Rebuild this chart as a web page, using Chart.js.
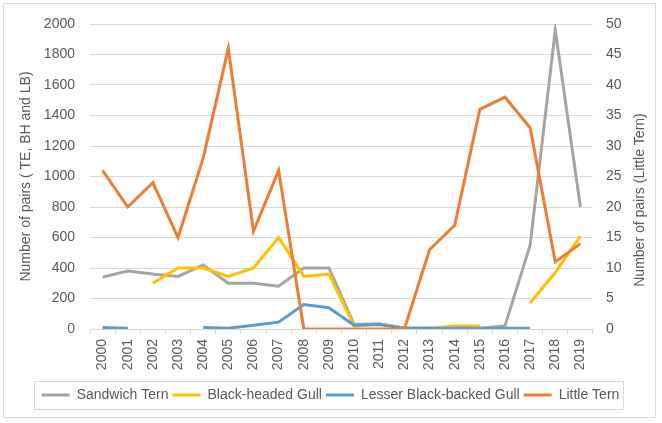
<!DOCTYPE html>
<html>
<head>
<meta charset="utf-8">
<script src="https://cdn.jsdelivr.net/npm/chart.js@4"></script>
<style>
  body { margin: 0; background: #fff; }
  #wrap { width: 662px; height: 423px; }
</style>
</head>
<body>
<div id="wrap"><canvas id="chart"></canvas></div>
<script>
'use strict';

const years = ['2000','2001','2002','2003','2004','2005','2006','2007','2008','2009',
               '2010','2011','2012','2013','2014','2015','2016','2017','2018','2019'];
// left axis (pairs)
const sandwichTern = [340,380,360,345,420,300,300,280,400,400,30,35,5,5,5,5,20,550,1960,800];
const blackHeadedGull = [null,null,300,400,400,345,400,600,345,360,20,35,5,5,20,20,null,170,370,610];
const lesserBlackBacked = [10,5,null,null,10,5,25,45,160,140,25,30,5,5,5,5,5,5,null,null];
// right axis (pairs of Little Tern)
const littleTern = [26,20,24,15,28,46,16,26,0,0,0,0,0,13,17,36,38,33,11,14];

const leftTicks = { min: 0, max: 2000, step: 200 };
const rightTicks = { min: 0, max: 50, step: 5 };

const textColor = '#595959';
const gridColor = '#d9d9d9';

Chart.defaults.font.family = "'Liberation Sans', Arial, sans-serif";
Chart.defaults.font.size = 14;
Chart.defaults.color = textColor;

// frame round the whole chart, box round the legend, right axis title
const decor = {
  id: 'decor',
  beforeDraw(chart) {
    const ctx = chart.ctx;
    ctx.save();
    ctx.fillStyle = '#fff';
    ctx.fillRect(0, 0, chart.width, chart.height);
    ctx.strokeStyle = gridColor;
    ctx.lineWidth = 1;
    ctx.strokeRect(3.5, 3.5, 652, 414);
    ctx.restore();
  },
  afterDraw(chart) {
    const ctx = chart.ctx;
    const boxes = chart.legend.legendHitBoxes;
    if (boxes && boxes.length) {
      const first = boxes[0], last = boxes[boxes.length - 1];
      ctx.save();
      ctx.strokeStyle = gridColor;
      ctx.lineWidth = 1;
      const x0 = Math.round(first.left - 8) + 0.5;
      const x1 = Math.round(last.left + last.width + 4) + 0.5;
      const y0 = Math.round(first.top - 7) + 0.5;
      const y1 = Math.round(first.top + first.height + 7) + 0.5;
      ctx.strokeRect(x0, y0, x1 - x0, y1 - y0);
      ctx.restore();
    }
    ctx.save();
    ctx.translate(640, 200);
    ctx.rotate(-Math.PI / 2);
    ctx.fillStyle = textColor;
    ctx.font = "14px 'Liberation Sans', Arial, sans-serif";
    ctx.textAlign = 'center';
    ctx.textBaseline = 'middle';
    ctx.fillText('Number of pairs (Little Tern)', 0, 0);
    ctx.restore();
  }
};

function line(label, data, color, axis, order) {
  return {
    label: label,
    data: data,
    borderColor: color,
    backgroundColor: color,
    borderWidth: 3,
    pointRadius: 0,
    tension: 0,
    spanGaps: false,
    yAxisID: axis,
    order: order
  };
}

new Chart(document.getElementById('chart'), {
  type: 'line',
  data: {
    labels: years,
    datasets: [
      line('Sandwich Tern', sandwichTern, '#A5A5A5', 'y', 4),
      line('Black-headed Gull', blackHeadedGull, '#FFC000', 'y', 3),
      line('Lesser Black-backed Gull', lesserBlackBacked, '#5B9BD5', 'y', 2),
      line('Little Tern', littleTern, '#ED7D31', 'y1', 1)
    ]
  },
  options: {
    responsive: true,
    maintainAspectRatio: false,
    animation: false,
    layout: { padding: { top: 24, left: 6, right: 7, bottom: 11 } },
    plugins: {
      tooltip: { enabled: false },
      legend: {
        position: 'bottom',
        labels: {
          usePointStyle: true,
          pointStyle: 'line',
          pointStyleWidth: 28,
          padding: 4,
          color: textColor,
          sort: (a, b) => a.datasetIndex - b.datasetIndex
        }
      }
    },
    scales: {
      x: {
        offset: true,
        grid: { display: true, drawOnChartArea: false, drawTicks: true, tickLength: 5, offset: true, color: gridColor },
        border: { display: true, color: gridColor },
        ticks: { minRotation: 90, maxRotation: 90, autoSkip: false, padding: 5 },
        afterFit(s) { s.height = 55; }
      },
      y: {
        position: 'left',
        min: leftTicks.min,
        max: leftTicks.max,
        ticks: { stepSize: leftTicks.step, padding: 15, callback: v => String(v) },
        grid: { color: gridColor, drawTicks: false },
        border: { display: false },
        title: { display: true, text: 'Number of pairs ( TE, BH and LB)', padding: { top: 12, bottom: 0 } },
        afterFit(s) { s.width = 84; }
      },
      y1: {
        position: 'right',
        min: rightTicks.min,
        max: rightTicks.max,
        ticks: { stepSize: rightTicks.step, padding: 13, callback: v => String(v) },
        grid: { drawOnChartArea: false, drawTicks: false },
        border: { display: false },
        afterFit(s) { s.width = 62; }
      }
    }
  },
  plugins: [decor]
});
</script>
</body>
</html>
